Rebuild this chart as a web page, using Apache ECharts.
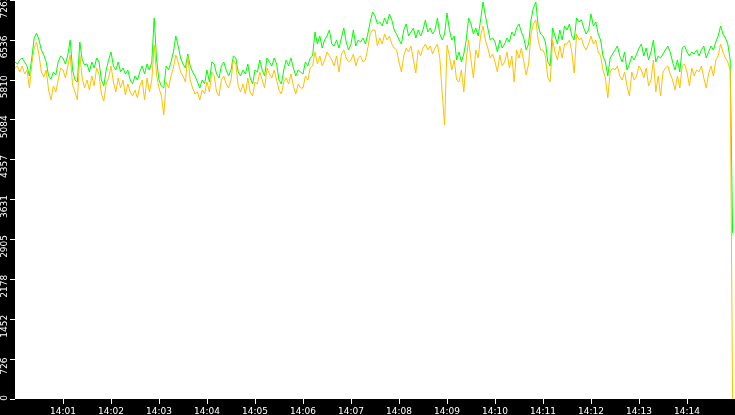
<!DOCTYPE html>
<html>
<head>
<meta charset="utf-8">
<script src="https://cdn.jsdelivr.net/npm/echarts/dist/echarts.min.js"></script>
<style>
  html, body { margin: 0; padding: 0; background: #000; }
  #chart { width: 735px; height: 415px; }
</style>
</head>
<body>
<div id="chart"></div>
<script>
// one sample every 3 seconds, starting at 14:00:00
var stepSeconds = 3;

var greenValues = [
  6135, 6098, 6171, 6207, 6135, 6062, 5880, 6207, 6571, 6662,
  6535, 6353, 6262, 6135, 5880, 5825, 5953, 5898, 6135, 6244,
  6207, 6098, 6262, 6535, 5989, 5807, 5771, 6498, 6171, 6080,
  6098, 5953, 6135, 6025, 6207, 6135, 5807, 5698, 5989, 6171,
  6317, 6062, 5989, 6135, 5953, 6025, 5916, 5989, 5807, 5734,
  5880, 5807, 5953, 6062, 5916, 6098, 5989, 6135, 6935, 6171,
  5807, 5698, 5661, 6062, 5989, 6135, 6317, 6608, 6426, 6207,
  6098, 6025, 6280, 6062, 5953, 5880, 5771, 5661, 5807, 5734,
  5989, 5771, 6135, 6098, 5916, 5844, 6062, 6135, 5989, 5880,
  5989, 6244, 6207, 5953, 5880, 5989, 5916, 6098, 5844, 5734,
  5989, 5953, 6171, 5989, 5880, 6207, 6135, 6062, 6207, 6098,
  5807, 5734, 5989, 6171, 6062, 6207, 6025, 5880, 5989, 5953,
  5916, 6135, 6062, 6207, 6244, 6681, 6462, 6608, 6389, 6535,
  6608, 6717, 6462, 6426, 6535, 6389, 6571, 6753, 6498, 6353,
  6462, 6717, 6426, 6535, 6498, 6571, 6462, 6644, 6863, 7045,
  6972, 6826, 6863, 6790, 6935, 6826, 7008, 6899, 6717, 6644,
  6535, 6462, 6717, 6826, 6608, 6681, 6753, 6571, 6717, 6608,
  6717, 6899, 6681, 6753, 6644, 6717, 6935, 6644, 6535, 6644,
  7026, 6717, 6535, 6608, 6171, 6317, 6135, 6280, 6535, 6935,
  6826, 6644, 6753, 6608, 6899, 7227, 6972, 6753, 6535, 6571,
  6498, 6317, 6535, 6389, 6462, 6571, 6498, 6681, 6608, 6753,
  6826, 6681, 6571, 6353, 6462, 6899, 7117, 7227, 6790, 6644,
  6608, 6498, 6135, 6062, 6753, 6608, 6462, 6717, 6535, 6790,
  6717, 6826, 6608, 6535, 6935, 6863, 6899, 6753, 6644, 6717,
  7008, 6790, 6863, 6644, 6535, 6244, 6135, 5880, 6207, 6280,
  6353, 6426, 6244, 6135, 6317, 5989, 6098, 6244, 6171, 6280,
  6389, 6462, 6244, 6389, 6171, 6317, 6535, 6135, 6244, 6207,
  6280, 6353, 6426, 6317, 6135, 5989, 6171, 5953, 6389, 6426,
  6317, 6244, 6317, 6280, 6353, 6244, 6353, 6426, 6207, 6317,
  6426, 6353, 6498, 6608, 6790, 6644, 6571, 6462, 6171, 3022
];

var orangeValues = [
  6025, 6062, 5953, 6062, 5916, 5989, 5661, 6098, 6389, 6498,
  6262, 5953, 5862, 5989, 5625, 5443, 5698, 5589, 5807, 6025,
  5989, 5844, 6062, 6262, 5716, 5589, 5443, 6262, 5844, 5661,
  5807, 5625, 5880, 5698, 6025, 5916, 5552, 5425, 5734, 5844,
  6062, 5771, 5589, 5844, 5661, 5807, 5534, 5734, 5589, 5516,
  5625, 5480, 5698, 5807, 5443, 5844, 5589, 5807, 6444, 5898,
  5661, 5516, 5170, 5771, 5661, 5880, 6025, 6262, 6135, 5953,
  5880, 5771, 6244, 5807, 5661, 5552, 5589, 5443, 5625, 5552,
  5771, 5589, 5953, 5880, 5589, 5516, 5807, 5880, 5734, 5661,
  5807, 6171, 6098, 5698, 5589, 5734, 5552, 5844, 5589, 5516,
  5771, 5734, 5953, 5807, 5661, 6025, 5916, 5844, 5989, 5807,
  5625, 5552, 5771, 5844, 5734, 5916, 5698, 5552, 5734, 5661,
  5661, 5880, 5807, 6025, 6062, 6317, 6098, 6244, 6062, 6171,
  6317, 6244, 6171, 6062, 6244, 5953, 6280, 6353, 6207, 6135,
  6171, 6280, 6062, 6207, 6244, 6135, 6171, 6389, 6644, 6717,
  6717, 6426, 6571, 6462, 6644, 6535, 6608, 6462, 6389, 6353,
  6135, 5953, 6244, 6389, 6317, 6426, 6171, 5934, 6353, 6244,
  6389, 6462, 6353, 6426, 6280, 6389, 6462, 6207, 5570, 4988,
  6444, 6244, 5989, 6171, 5807, 5771, 5989, 5589, 6171, 6535,
  6171, 5844, 6353, 6207, 6608, 6790, 6535, 6389, 6207, 6280,
  6135, 5953, 6262, 6062, 6135, 6317, 6025, 6244, 5771, 6353,
  6207, 6389, 6135, 5898, 6098, 6644, 6826, 6899, 6535, 6353,
  6353, 6244, 5844, 5771, 6535, 6317, 6171, 6426, 6207, 6462,
  6462, 6535, 6317, 5934, 6644, 6535, 6571, 6426, 6353, 6462,
  6608, 6462, 6535, 6317, 6244, 5989, 5844, 5480, 5953, 6025,
  5989, 6062, 5880, 5807, 5953, 5698, 5516, 5953, 5807, 5880,
  6062, 5989, 5844, 6025, 5698, 5807, 6171, 5589, 5880, 5516,
  5953, 6025, 6062, 5916, 5807, 5625, 5880, 5661, 6062, 6098,
  5953, 5698, 6025, 5880, 5989, 5953, 6062, 5844, 5661, 5916,
  6062, 5880, 6171, 6244, 6462, 6317, 6207, 6135, 5989, 0
];

// minute ticks, in seconds after 14:00:00
var minuteTicks = [60, 120, 180, 240, 300, 360, 420, 480, 540, 600, 660, 720, 780, 840];
var minuteLabels = ['14:01', '14:02', '14:03', '14:04', '14:05', '14:06', '14:07',
                    '14:08', '14:09', '14:10', '14:11', '14:12', '14:13', '14:14'];
var yTickLabels = ['0', '726', '1452', '2178', '2905', '3631', '4357', '5084', '5810', '6536', '7263'];

function toPairs(values) {
    return values.map(function (v, i) { return [i * stepSeconds, v]; });
}

var chart = echarts.init(document.getElementById('chart'));
chart.setOption({
    backgroundColor: '#000',
    animation: false,
    grid: {
        left: 15, right: 0, top: 0, bottom: 16,
        outerBoundsMode: 'none',
        containLabel: false,
        show: true, backgroundColor: '#fff', borderWidth: 0
    },
    xAxis: {
        type: 'value',
        min: 0,
        max: 900,
        axisLine: { show: false },
        splitLine: { show: false },
        axisTick: {
            show: true, length: 5, customValues: minuteTicks,
            lineStyle: { color: '#fff', width: 1 }
        },
        axisLabel: {
            customValues: minuteTicks,
            color: '#fff',
            fontFamily: 'DejaVu Sans',
            fontSize: 9,
            margin: 8,
            formatter: function (v) { return minuteLabels[minuteTicks.indexOf(v)]; }
        }
    },
    yAxis: {
        type: 'value',
        min: 0,
        max: 7263,
        interval: 726.3,
        axisLine: { show: false },
        splitLine: { show: false },
        axisTick: { show: true, length: 5, lineStyle: { color: '#fff', width: 1 } },
        axisLabel: {
            rotate: 90,
            color: '#fff',
            fontFamily: 'DejaVu Sans',
            fontSize: 9,
            margin: 6,
            hideOverlap: false,
            showMinLabel: true,
            showMaxLabel: true,
            padding: [0, 14, 0, 0],
            // the bottom label sits just above its tick, inside the strip
            formatter: function (v, i) {
                return i === 0 ? '{zero|' + yTickLabels[i] + '}' : yTickLabels[i];
            },
            rich: {
                zero: { color: '#fff', fontFamily: 'DejaVu Sans', fontSize: 9, padding: [0, 0, 0, 16] }
            }
        }
    },
    series: [
        {
            type: 'line',
            data: toPairs(greenValues),
            showSymbol: false,
            lineStyle: { width: 1, color: '#00ff00' }
        },
        {
            type: 'line',
            data: toPairs(orangeValues),
            showSymbol: false,
            lineStyle: { width: 1, color: '#ffc000' }
        }
    ]
});
</script>
</body>
</html>
